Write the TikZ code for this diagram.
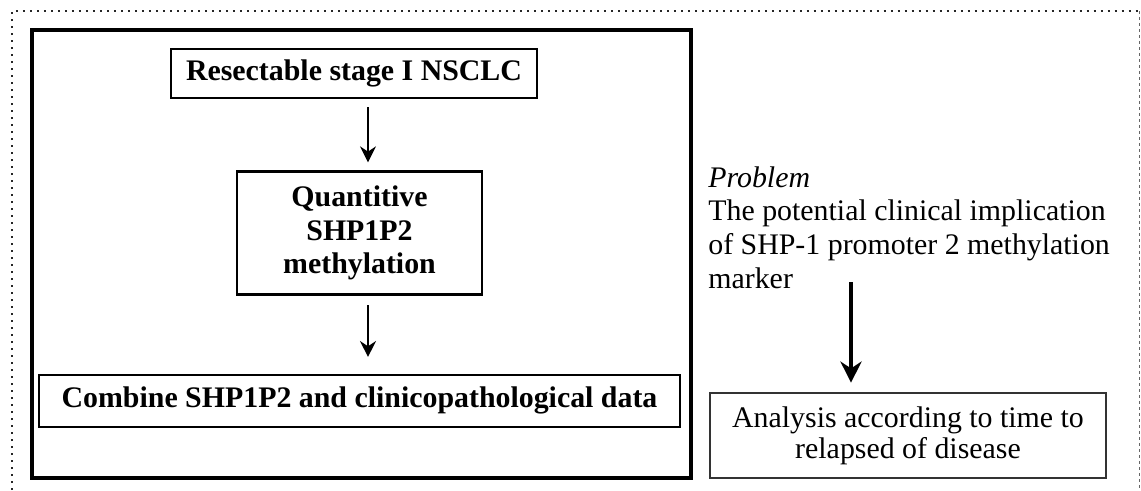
\documentclass[tikz,border=0pt]{standalone}
\usepackage{fontspec}
\setmainfont{Liberation Serif}
\usepackage{tikz}
\usetikzlibrary{arrows.meta, positioning, calc}

\begin{document}
\begin{tikzpicture}[x=0.02cm, y=-0.02cm, >=Stealth, node distance=1.4cm, every node/.style={font=\fontsize{17}{19}\selectfont}]
            \tikzset{stepbox/.style={draw, line width=1.4pt, inner sep=2pt, align=center, font=\fontsize{17}{19}\selectfont\bfseries},
                     outbox/.style={draw, line width=0.8pt, draw=black!80, align=center, font=\fontsize{17}{17.5}\selectfont},
                     panel/.style={draw, line width=1.8pt},
                     arr/.style={->, line width=1.5pt, >={Stealth[length=9pt, width=9pt]}},
                     bigarr/.style={->, line width=2pt, >={Stealth[length=12pt, width=12pt]}}}
            \useasboundingbox (0,0) rectangle (1141,490);
            % outer dotted frame
            \draw[line width=1.2pt, dash pattern=on 0.04cm off 0.1cm, black!85] (12,490) -- (12,11) -- (1139,11);
            \draw[line width=0.5pt, dash pattern=on 0.06cm off 0.06cm, black!60] (1139,11) -- (1139,490);
            % left panel
            \node[panel, minimum width=13.18cm, minimum height=8.96cm] (study) at (361.5,254) {};
            % nodes
            \node[stepbox, minimum width=7.32cm, minimum height=0.98cm] (resect) at (354,73.5) {Resectable stage I NSCLC};
            \node[stepbox, minimum width=4.9cm, minimum height=2.46cm, below=1.42cm of resect, xshift=0.11cm] (quant) {Quantitive\\SHP1P2\\methylation};
            \node[stepbox, minimum width=12.82cm, minimum height=1.04cm, below=1.56cm of quant] (combine) {Combine SHP1P2 and clinicopathological data};
            \node[outbox, minimum width=7.92cm, minimum height=1.7cm] (analysis) at (908,435.5) {Analysis according to time to\\relapsed of disease};
            % labels
            \node[anchor=west, inner sep=0pt, align=left, font=\fontsize{17}{19.2}\selectfont] (problem) at (708,227.5) {\textit{Problem}\\The potential clinical implication\\of SHP-1 promoter 2 methylation\\marker};
            \coordinate (pstart) at (851,282);
            % arrows between the steps
            \draw[arr] ([xshift=0.28cm, yshift=-4.5pt]resect.south) -- ([xshift=0.28cm, yshift=4.5pt]resect.south |- quant.north);
            \draw[arr] ([xshift=0.17cm, yshift=-5.5pt]quant.south) -- ([xshift=0.17cm, yshift=9.5pt]quant.south |- combine.north);
            \draw[bigarr] (pstart) -- ([yshift=5.5pt]pstart |- analysis.north);
        \end{tikzpicture}
\end{document}
